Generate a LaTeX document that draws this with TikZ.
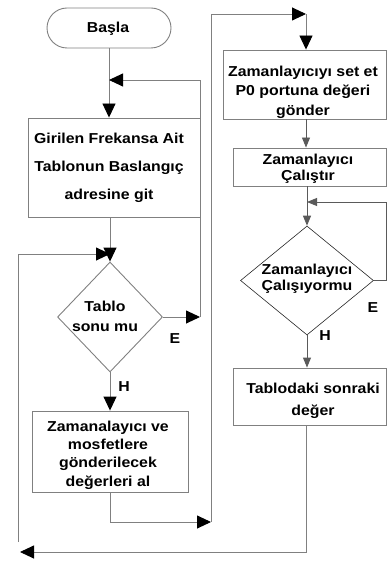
\documentclass[tikz,border=0pt]{standalone}
\usepackage{fontspec}
\setmainfont{Liberation Sans}[FakeStretch=1.1]
\usetikzlibrary{arrows.meta,shapes.geometric}
\definecolor{lgray}{RGB}{128,128,128}
\definecolor{dgray}{RGB}{90,90,90}
\begin{document}
\begin{tikzpicture}[x=1pt,y=-1pt,
  ln/.style={draw=lgray, line width=0.9pt},
  arr/.style={ln, -{Triangle[length=14pt,width=13pt,color=black]}},
  sarr/.style={draw=dgray, line width=0.9pt, -{Triangle[length=10pt,width=8pt,color=dgray]}},
  box/.style={rectangle, draw=lgray, line width=0.9pt, inner sep=0pt},
  txt/.style={font=\bfseries\fontsize{14.4}{18}\selectfont, align=center, inner sep=0pt},
  lbl/.style={font=\bfseries\fontsize{14.4}{16}\selectfont, inner sep=0pt}
]
\useasboundingbox (0,0) rectangle (387,561);

% left column
\node[box, rounded corners=20pt, minimum width=124pt, minimum height=40pt] (start) at (109,28) {};
\node[txt] (startT) at (108,29) {Başla};

\node[box, minimum width=172pt, minimum height=99pt] (girilen) at (114,167.5) {};
\node[txt, font=\bfseries\fontsize{14.4}{28}\selectfont] (girilenT) at (109,168) {Girilen Frekansa Ait\\Tablonun Baslangıç\\adresine git};

\node[diamond, draw=lgray, line width=0.9pt, minimum width=105pt, minimum height=110pt, inner sep=0pt] (tablo) at (110,317) {};
\node[txt, font=\bfseries\fontsize{14.4}{20}\selectfont] (tabloT) at (105,316) {Tablo\\sonu mu};

\node[box, minimum width=156pt, minimum height=81pt] (zaman) at (110,451.5) {};
\node[txt, font=\bfseries\fontsize{14.4}{18.3}\selectfont] (zamanT) at (108,455) {Zamanalayıcı ve\\mosfetlere\\gönderilecek\\değerleri al};

% right column
\node[box, minimum width=163.5pt, minimum height=69pt] (zset) at (304.75,84.5) {};
\node[txt, font=\bfseries\fontsize{14.4}{19.5}\selectfont] (zsetT) at (303,92) {Zamanlayıcıyı set et\\P0 portuna değeri\\gönder};

\node[box, minimum width=153.5pt, minimum height=38pt] (calis) at (309.75,167) {};
\node[txt, font=\bfseries\fontsize{14.4}{15.5}\selectfont] (calisT) at (308,169) {Zamanlayıcı\\Çalıştır};

\node[diamond, draw=black!85, line width=0.6pt, minimum width=133pt, minimum height=109pt, inner sep=0pt] (zdia) at (307,280.5) {};
\node[txt, font=\bfseries\fontsize{14.4}{16}\selectfont] (zdiaT) at (307,279) {Zamanlayıcı\\Çalışıyormu};

\node[box, minimum width=153.5pt, minimum height=57pt] (tablod) at (309.75,396.5) {};
\node[txt, font=\bfseries\fontsize{14.4}{22}\selectfont] (tablodT) at (313,401) {Tablodaki sonraki\\değer};

% labels
\node[lbl] (e1) at (175,339) {E};
\node[lbl] (h1) at (124,387) {H};
\node[lbl] (e2) at (373,308) {E};
\node[lbl] (h2) at (325,336) {H};

% junction coordinates
\coordinate (j1) at (109,80);
\coordinate (eR) at (200,317);
\coordinate (j2) at (110,254);
\coordinate (lb) at (18,542);
\coordinate (bl) at (20,552);
\coordinate (c1) at (211,522);
\coordinate (c2) at (306,14);
\coordinate (j3) at (307,202);
\coordinate (rr) at (386,202);

% connectors
\draw[arr] (start.south) -- (start.south |- girilen.north);
\draw[arr] (tablo.east) -- (eR);
\draw[arr] (eR) |- (j1);
\draw[arr] (girilen.south -| tablo.north) -- (tablo.north);
\draw[arr] (lb) |- (j2);
\draw[arr] (tablo.south) -- (zaman.north -| tablo.south);
\draw[arr] (zaman.south) |- (c1);
\draw[arr] (c1) |- (c2);
\draw[arr] (c2) -- (c2 |- zset.north);
\draw[sarr] (zset.south -| c2) -- (c2 |- calis.north);
\draw[sarr] (calis.south -| zdia.north) -- (zdia.north);
\draw[sarr] (zdia.east) -| (rr) -- (j3);
\draw[sarr] (zdia.south) -- (zdia.south |- tablod.north);
\draw[arr] (tablod.south -| c2) |- (bl);
\end{tikzpicture}
\end{document}
